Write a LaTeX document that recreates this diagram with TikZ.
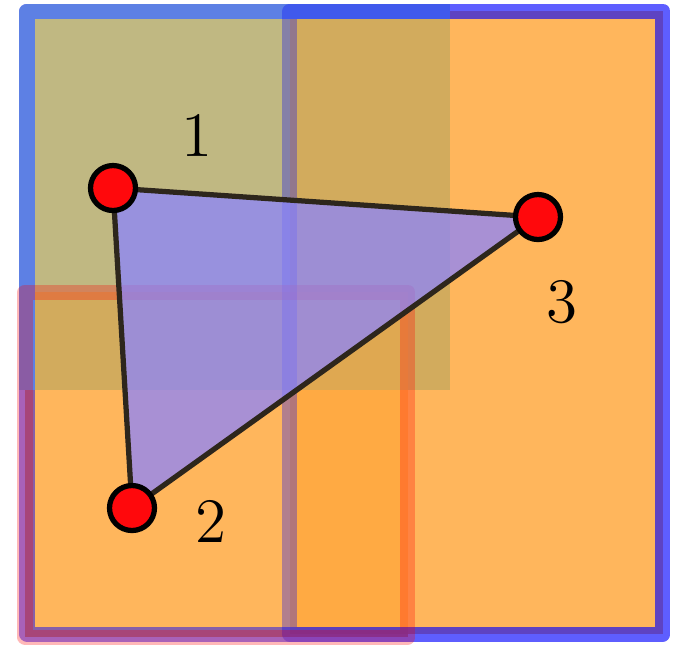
\documentclass[tikz,border=0pt]{standalone}

\definecolor{boxfill}{RGB}{255,168,62}
\definecolor{leaffill}{RGB}{181,171,108}
\definecolor{leafline}{RGB}{93,128,228}
\definecolor{trifill}{RGB}{139,132,253}
\definecolor{edgecol}{RGB}{45,38,28}
\definecolor{vtxred}{RGB}{255,8,12}

\begin{document}
\begin{tikzpicture}[
  x=0.06667mm, y=-0.06667mm,
  underbox/.style={fill=boxfill,fill opacity=0.771},
  overbox/.style={fill=boxfill,fill opacity=0.3},
  leafbox/.style={fill=leaffill,fill opacity=0.85},
  frame/.style={draw=blue,draw opacity=0.47,line width=0.1cm,line join=round},
  leafedge/.style={draw=leafline,line width=0.1cm,line join=round},
  rightedge/.style={draw=blue,draw opacity=0.3,line width=0.1cm,line join=round},
  lowedge/.style={draw=red,draw opacity=0.28,line width=0.1cm,line join=round},
  tri/.style={fill=trifill,fill opacity=0.75},
  edge/.style={draw=edgecol,line width=0.035cm},
  vtx/.style={circle,draw=black,fill=vtxred,line width=0.035cm,
              minimum size=0.3cm,inner sep=0pt},
  lbl/.style={font=\fontsize{13}{15}\selectfont},
]
  \useasboundingbox (0,0) rectangle (674,646);

  % boxes
  \fill[underbox] (290,11) rectangle (663,634);
  \fill[underbox] (25,292) rectangle (408,637);
  \fill[leafbox] (27,11) rectangle (450,390);
  \fill[overbox] (290,11) rectangle (663,634);
  \fill[overbox] (25,292) rectangle (408,637);
  \draw[frame] (27,11) rectangle (663,634);
  \draw[leafedge] (450,11) -- (27,11) -- (27,390);
  \draw[rightedge] (290,11) rectangle (663,634);
  \draw[lowedge] (25,292) rectangle (408,637);

  % triangle
  \coordinate (p1) at (113,188);
  \coordinate (p2) at (132,508);
  \coordinate (p3) at (538,217);
  \fill[tri] (p1) -- (p2) -- (p3) -- cycle;
  \draw[edge] (p1) -- (p2) -- (p3) -- cycle;

  \node[vtx] (v1) at (p1) {};
  \node[vtx] (v2) at (p2) {};
  \node[vtx] (v3) at (p3) {};

  \node[lbl] (n1) at (197,136) {$1$};
  \node[lbl] (n2) at (211,522) {$2$};
  \node[lbl] (n3) at (562,302) {$3$};
\end{tikzpicture}
\end{document}
